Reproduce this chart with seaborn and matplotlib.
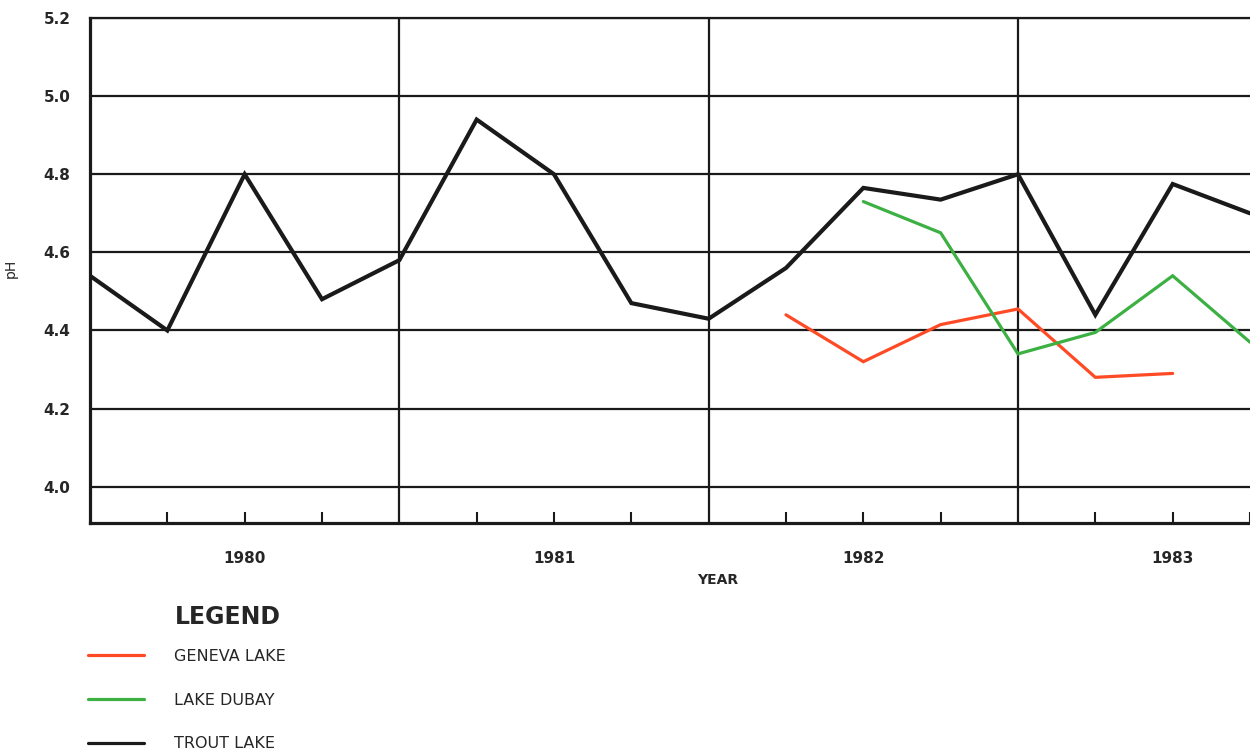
import matplotlib
matplotlib.use("Agg")
import matplotlib.pyplot as plt
import numpy as np
import pandas as pd
import seaborn as sns

# Sampling dates (decimal years, quarterly) and measured pH per lake
trout_dates = [1980.0, 1980.25, 1980.5, 1980.75, 1981.0, 1981.25, 1981.5, 1981.75,
               1982.0, 1982.25, 1982.5, 1982.75, 1983.0, 1983.25, 1983.5, 1983.75]
trout_ph = [4.54, 4.40, 4.80, 4.48, 4.58, 4.94, 4.80, 4.47,
            4.43, 4.56, 4.765, 4.735, 4.80, 4.44, 4.775, 4.70]

geneva_dates = [1982.25, 1982.5, 1982.75, 1983.0, 1983.25, 1983.5]
geneva_ph = [4.44, 4.32, 4.415, 4.455, 4.28, 4.29]

dubay_dates = [1982.5, 1982.75, 1983.0, 1983.25, 1983.5, 1983.75]
dubay_ph = [4.73, 4.65, 4.34, 4.395, 4.54, 4.37]

year_labels = ["1980", "1981", "1982", "1983"]
y_ticks = [4.0, 4.2, 4.4, 4.6, 4.8, 5.0, 5.2]

lakes = ["GENEVA LAKE", "LAKE DUBAY", "TROUT LAKE"]
colors = {"GENEVA LAKE": "#ff4a26", "LAKE DUBAY": "#3cb043", "TROUT LAKE": "#1a1a1a"}
widths = {"GENEVA LAKE": 2.3, "LAKE DUBAY": 2.3, "TROUT LAKE": 3.0}

df = pd.concat([
    pd.DataFrame({"date": geneva_dates, "ph": geneva_ph, "lake": "GENEVA LAKE"}),
    pd.DataFrame({"date": dubay_dates, "ph": dubay_ph, "lake": "LAKE DUBAY"}),
    pd.DataFrame({"date": trout_dates, "ph": trout_ph, "lake": "TROUT LAKE"}),
], ignore_index=True)

sns.set_theme(style="white")
plt.rcParams["font.family"] = ["DejaVu Sans"]

fig = plt.figure(figsize=(12.5, 7.51), dpi=100)
ax = fig.add_axes([0.072, 0.3036, 0.928, 0.6724])

for lake in lakes:
    sns.lineplot(data=df[df["lake"] == lake], x="date", y="ph", ax=ax,
                 color=colors[lake], linewidth=widths[lake], label=lake,
                 legend=False, zorder=3, solid_joinstyle="miter")

ax.set_xlim(1980.0, 1983.72)
ax.set_ylim(3.907, 5.2)

# Horizontal grid at every 0.2 pH, vertical lines at year boundaries
ax.set_yticks(y_ticks)
ax.set_yticklabels([f"{v:.1f}" for v in y_ticks], fontsize=11, fontweight="bold")
for v in y_ticks:
    ax.axhline(v, color="#1a1a1a", linewidth=1.6, zorder=1)
for yr in [1981, 1982, 1983]:
    ax.axvline(yr, color="#1a1a1a", linewidth=1.6, zorder=1)

quarters = [1980 + i * 0.25 for i in range(16) if i % 4 != 0]
ax.set_xticks(quarters)
ax.set_xticklabels([year_labels[int(q) - 1980] if (q % 1) == 0.5 else "" for q in quarters],
                   fontsize=11, fontweight="bold")
ax.tick_params(axis="x", direction="in", length=8, width=1.5, color="#1a1a1a",
               pad=20, bottom=True)
ax.tick_params(axis="y", length=0, pad=14)

for side in ["left", "bottom"]:
    ax.spines[side].set_linewidth(2.3)
    ax.spines[side].set_color("#1a1a1a")
ax.spines["top"].set_linewidth(1.6)
ax.spines["top"].set_color("#1a1a1a")
ax.spines["right"].set_visible(False)

ax.set_xlabel("YEAR", fontsize=10, fontweight="bold")
ax.xaxis.set_label_coords(0.541, -0.099)
ax.set_ylabel("pH", fontsize=10)
ax.yaxis.set_label_coords(-0.062, 0.505)

# Legend block under the chart
fig.text(175 / 1250, 1 - 617 / 751, "LEGEND", fontsize=17, fontweight="bold",
         ha="left", va="center")
handles = [plt.Line2D([], [], color=colors[l], linewidth=2.3) for l in lakes]
leg = fig.legend(handles, lakes, loc="upper left",
                 bbox_to_anchor=(88 / 1250, 1 - 649 / 751),
                 bbox_transform=fig.transFigure, frameon=False,
                 fontsize=11.5, handlelength=3.5, handletextpad=1.9,
                 labelspacing=1.8, borderpad=0, borderaxespad=0)

fig.savefig("out.png", dpi=100, facecolor="white")
